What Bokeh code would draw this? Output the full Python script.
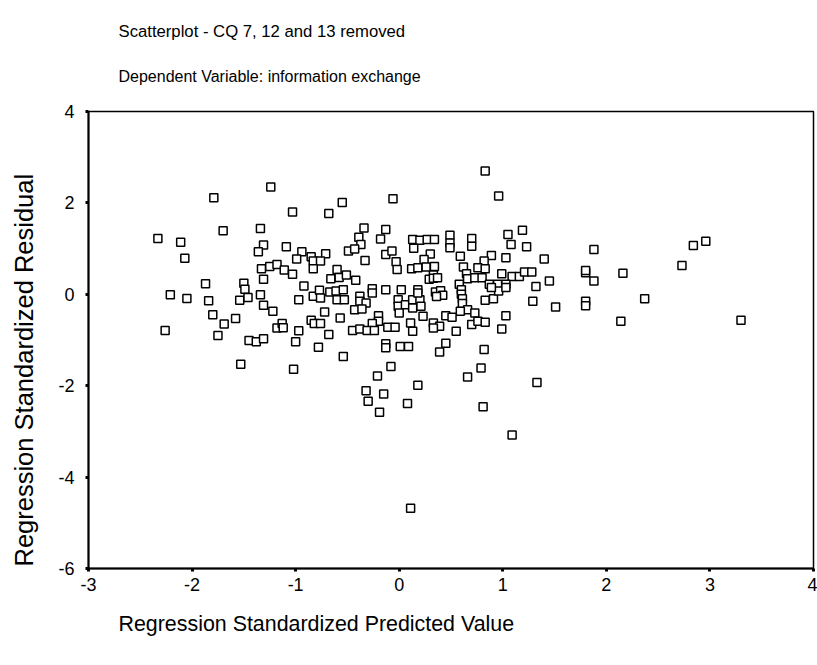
from bokeh.plotting import figure
from bokeh.models import Title, FixedTicker, Range1d, ColumnDataSource, CustomJSTickFormatter
from bokeh.embed import file_html
from bokeh.resources import INLINE

# Regression standardized predicted value (x) and residual (y)
pred = [
    -1.24, -1.79, -1.03, -0.68, -1.70, -1.34, -2.33, -2.11, -2.07, -1.31,
    -1.36, -1.09, -0.94, -0.85, -0.71, -0.99, -0.83, -0.76, -0.83, -1.33,
    -1.25, -1.18, -1.11, -1.03, -1.31, -0.66, -1.87, -1.50, -1.49, -0.92,
    -2.21, -2.05, -1.84, -1.54, -1.46, -1.34, -0.97, -0.83, -0.77, -0.76,
    -0.67, -1.31, -1.22, -1.80, -1.58, -1.69, -0.72, -2.26, -1.75, -1.18,
    -1.13, -1.12, -0.97, -0.85, -0.82, -0.76, -0.68, -1.45, -1.38, -1.31,
    -1.00, -0.78, -1.53, -1.02,
    -0.06, -0.55, -0.34, -0.13, -0.39, -0.18, -0.37, -0.49, -0.43, -0.33,
    -0.13, -0.07, -0.03, -0.02, 0.13, 0.20, 0.27, 0.34, 0.14, 0.30,
    0.24, 0.12, 0.18, 0.26, 0.34, 0.33, 0.29, 0.33, 0.37, -0.60,
    -0.58, -0.51, -0.42,
    0.83, 0.96, 1.05, 1.19, 1.08, 1.23, 0.49, 0.49, 0.49, 0.70,
    0.70, 0.59, 0.89, 0.82, 1.03, 1.40, 0.62, 0.76, 0.83, 0.65,
    0.99, 1.09, 1.16, 1.21, 1.28, 0.66, 0.73, 0.80, 0.58, 0.87,
    0.95, 1.03, 1.45, 1.32,
    -0.61, -0.54, -0.60, -0.53, -0.38, -0.38, -0.26, -0.26, -0.32, -0.43,
    -0.36, -0.57, -0.20, -0.20, -0.26, -0.45, -0.38, -0.31, -0.24, -0.11,
    -0.04, 0.11, 0.13, -0.13, 0.02, -0.01, -0.01, 0.06, 0.00, 0.13,
    0.20, 0.13, 0.21, 0.18, 0.18, 0.23, 0.35, 0.40, 0.42, 0.36,
    0.33, 0.39, 0.33, 0.45, -0.13, -0.13, 0.01, 0.09, 0.45, 0.39,
    -0.54, -0.08, -0.21, 0.18, -0.32, -0.15, -0.30, 0.08,
    -0.19, 0.81, 1.09, 0.11,
    0.60, 0.60, 0.61, 0.61, 0.66, 0.59, 0.51, 0.73, 0.70, 0.76,
    0.83, 0.83, 0.91, 0.96, 1.03, 0.89, 1.29, 1.51, 1.03, 0.99,
    0.55, 0.82, 0.79, 0.66, 1.33,
    2.84, 2.96, 2.73, 3.30, 1.88, 1.80, 1.80, 1.88, 1.80, 1.80,
    2.16, 2.37, 2.14,
]
resid = [
    2.35, 2.11, 1.80, 1.77, 1.39, 1.44, 1.22, 1.14, 0.79, 1.08,
    0.93, 1.04, 0.93, 0.82, 0.89, 0.77, 0.73, 0.73, 0.56, 0.56,
    0.61, 0.65, 0.53, 0.44, 0.33, 0.34, 0.23, 0.24, 0.11, 0.18,
    -0.01, -0.09, -0.14, -0.13, -0.07, -0.01, -0.12, -0.04, 0.09, -0.08,
    0.05, -0.24, -0.37, -0.45, -0.53, -0.65, -0.39, -0.79, -0.90, -0.74,
    -0.64, -0.73, -0.80, -0.57, -0.64, -0.64, -0.88, -1.01, -1.04, -0.97,
    -1.04, -1.16, -1.53, -1.64,
    2.09, 2.01, 1.45, 1.42, 1.25, 1.21, 1.09, 0.95, 0.99, 0.74,
    0.87, 0.95, 0.71, 0.54, 1.20, 1.18, 1.20, 1.20, 1.01, 0.88,
    0.76, 0.56, 0.58, 0.60, 0.61, 0.42, 0.33, 0.35, 0.36, 0.54,
    0.37, 0.42, 0.31,
    2.70, 2.15, 1.31, 1.40, 1.09, 1.04, 1.29, 1.12, 1.02, 1.22,
    1.05, 0.83, 0.85, 0.73, 0.80, 0.77, 0.60, 0.58, 0.56, 0.45,
    0.45, 0.39, 0.39, 0.49, 0.49, 0.34, 0.36, 0.36, 0.22, 0.22,
    0.22, 0.22, 0.29, 0.17,
    0.07, 0.10, -0.12, -0.12, -0.04, -0.15, 0.12, 0.03, -0.19, -0.34,
    -0.32, -0.52, -0.47, -0.59, -0.64, -0.79, -0.76, -0.79, -0.79, -0.72,
    -0.72, -0.63, -0.81, 0.10, 0.10, -0.12, -0.26, -0.23, -0.41, -0.12,
    -0.12, -0.30, -0.26, 0.10, 0.03, -0.48, 0.05, 0.08, -0.02, -0.05,
    -0.63, -0.70, -0.74, -0.47, -1.08, -1.17, -1.14, -1.14, -1.07, -1.26,
    -1.36, -1.58, -1.79, -1.99, -2.11, -2.18, -2.34, -2.39,
    -2.58, -2.46, -3.08, -4.68,
    0.10, 0.00, -0.10, -0.20, -0.34, -0.37, -0.50, -0.41, -0.66, -0.59,
    -0.61, -0.13, -0.10, 0.07, 0.15, 0.15, -0.15, -0.28, -0.47, -0.76,
    -0.81, -1.21, -1.61, -1.81, -1.93,
    1.07, 1.16, 0.63, -0.57, 0.98, 0.47, 0.52, 0.29, -0.15, -0.25,
    0.46, -0.10, -0.59,
]
x_ticks = [-3, -2, -1, 0, 1, 2, 3, 4]
y_ticks = [-6, -4, -2, 0, 2, 4]

title_text = "Scatterplot - CQ 7, 12 and 13 removed"
subtitle_text = "Dependent Variable: information exchange"
x_label = "Regression Standardized Predicted Value"
y_label = "Regression Standardized Residual"

FONT = "Liberation Sans"

p = figure(width=817, height=665, output_backend="svg", toolbar_location=None,
           x_range=Range1d(x_ticks[0], x_ticks[-1]),
           y_range=Range1d(y_ticks[0], y_ticks[-1]),
           min_border_left=88, min_border_right=4,
           min_border_top=111, min_border_bottom=97)
p.grid.visible = False
p.background_fill_color = "white"
p.border_fill_color = "white"
p.outline_line_color = "black"
p.outline_line_width = 1.5

src = ColumnDataSource(dict(x=pred, y=resid))
p.scatter("x", "y", source=src, marker="square", size=8,
          fill_color="white", line_color="black", line_width=1.5)

fmt = CustomJSTickFormatter(code="return tick.toString();")
for ax, ticks in ((p.xaxis[0], x_ticks), (p.yaxis[0], y_ticks)):
    ax.ticker = FixedTicker(ticks=ticks)
    ax.formatter = fmt
    ax.minor_tick_line_color = None
    ax.axis_line_width = 2
    ax.axis_line_color = "black"
    ax.major_tick_in = 0
    ax.major_tick_out = 3
    ax.major_tick_line_width = 3
    ax.major_tick_line_color = "black"
    ax.major_label_text_font = FONT
    ax.major_label_text_font_size = "18px"
    ax.major_label_text_color = "black"
p.yaxis.major_label_standoff = 11
p.xaxis.major_label_standoff = 6

# invisible spacer label so the left title sits further out
p.yaxis.axis_label = " "
p.yaxis.axis_label_text_font_size = "1px"
p.yaxis.axis_label_standoff = 6

p.add_layout(Title(text=subtitle_text, align="left", offset=30, text_font=FONT,
                   text_font_size="16px", text_font_style="normal", text_color="black",
                   vertical_align="middle", standoff=51), "above")
p.add_layout(Title(text=title_text, align="left", offset=30, text_font=FONT,
                   text_font_size="16.7px", text_font_style="normal", text_color="black",
                   vertical_align="middle", standoff=0), "above")
p.add_layout(Title(text=x_label, align="left", offset=30, text_font=FONT,
                   text_font_size="21.4px", text_font_style="normal", text_color="black",
                   vertical_align="middle", standoff=35), "below")
p.add_layout(Title(text=y_label, align="left", offset=2, text_font=FONT,
                   text_font_size="25.5px", text_font_style="normal", text_color="black",
                   vertical_align="middle", standoff=14), "left")

open("out.html", "w").write(file_html(p, INLINE))
